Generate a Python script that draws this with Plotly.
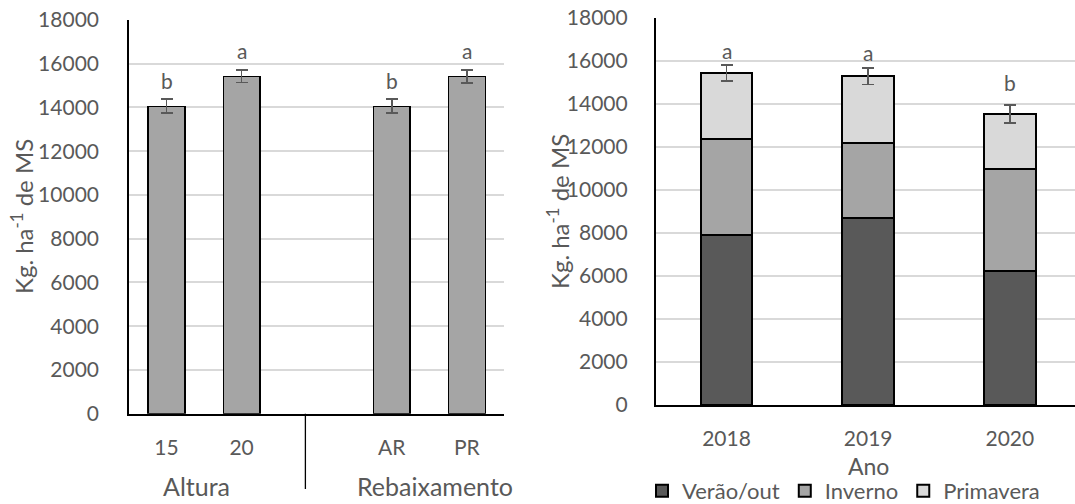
import plotly.graph_objects as go

# ---- data: dry-matter production (Kg ha-1 de MS) ----
# left panel: treatment means
trat_labels = ["15", "20", "AR", "PR"]
trat_means = [14060, 15430, 14060, 15420]
trat_err = [330, 290, 330, 300]
trat_letters = ["b", "a", "b", "a"]
grupos = ["Altura", "Rebaixamento"]

# right panel: yearly production split by season
anos = ["2018", "2019", "2020"]
verao_out = [7920, 8700, 6230]
inverno = [4440, 3490, 4750]
primavera = [3080, 3100, 2560]
ano_err = [365, 386, 410]
ano_letters = ["a", "a", "b"]

FONT = "Lato"
TXT = "#595959"
W, H = 1075, 504

# left category axis keeps an empty slot between the two factor groups
left_cats = ["15", "20", " ", "AR", "PR"]

fig = go.Figure()

fig.add_trace(go.Bar(
    x=trat_labels, y=trat_means, width=0.49,
    marker=dict(color="#A5A5A5", line=dict(color="#000000", width=1.3)),
    error_y=dict(type="data", array=trat_err, color="#595959", thickness=1.8, width=6),
    xaxis="x", yaxis="y", showlegend=False,
))

season_series = [("Verão/out", verao_out, "#595959"),
                 ("Inverno", inverno, "#A5A5A5"),
                 ("Primavera", primavera, "#D9D9D9")]
for i, (name, vals, col) in enumerate(season_series):
    fig.add_trace(go.Bar(
        name=name, x=anos, y=vals, width=0.366,
        marker=dict(color=col, line=dict(color="#000000", width=2)),
        error_y=(dict(type="data", array=ano_err, color="#595959", thickness=1.8, width=6)
                 if i == len(season_series) - 1 else None),
        xaxis="x2", yaxis="y2",
    ))

totals = [a + b + c for a, b, c in zip(verao_out, inverno, primavera)]

axis_font = dict(family=FONT, size=21, color=TXT)
grid = dict(showgrid=True, gridcolor="#D9D9D9", gridwidth=1.6, zeroline=False)

fig.update_layout(
    width=W, height=H,
    margin=dict(l=0, r=0, t=0, b=0, autoexpand=False),
    paper_bgcolor="white", plot_bgcolor="white",
    barmode="stack",
    font=dict(family=FONT, color=TXT),
    xaxis=dict(domain=[129 / W, 504.3 / W], type="category",
               categoryorder="array", categoryarray=left_cats,
               range=[-0.5, 4.5], showline=True, linecolor="#000000", linewidth=1.6,
               ticks="", tickfont=axis_font, ticklabelstandoff=14, showgrid=False,
               tickvals=trat_labels),
    yaxis=dict(domain=[(H - 413.7) / H, (H - 20) / H], range=[0, 18000], dtick=2000,
               showline=True, linecolor="#000000", linewidth=1.6, ticks="",
               tickfont=axis_font, ticklabelstandoff=24, tickformat="d", **grid),
    xaxis2=dict(domain=[655.7 / W, 1.0], type="category", range=[-0.5, 2.46],
                showline=True, linecolor="#000000", linewidth=1.6, ticks="",
                tickfont=axis_font, ticklabelstandoff=14, showgrid=False,
                anchor="y2"),
    yaxis2=dict(domain=[(H - 405) / H, (H - 18) / H], range=[0, 18000], dtick=2000,
                showline=True, linecolor="#000000", linewidth=1.6, ticks="",
                tickfont=axis_font, ticklabelstandoff=22, tickformat="d",
                anchor="x2", **grid),
    legend=dict(orientation="h", x=642 / W, y=(H - 491) / H, xanchor="left",
                yanchor="middle", font=dict(family=FONT, size=22, color=TXT),
                itemwidth=30, traceorder="normal", bgcolor="rgba(0,0,0,0)",
                tracegroupgap=0),
    showlegend=True,
)

ann = []
letter_font = dict(family=FONT, size=21, color=TXT)
# significance letters above the bars (positions given as category indices)
for lab, val, txt in zip(trat_labels, trat_means, trat_letters):
    ann.append(dict(x=left_cats.index(lab), y=val, xref="x", yref="y", text=txt,
                    showarrow=False, yanchor="middle", yshift=26, font=letter_font))
for i, (val, txt, sh) in enumerate(zip(totals, ano_letters, [23, 24, 31])):
    ann.append(dict(x=i, y=val, xref="x2", yref="y2", text=txt, showarrow=False,
                    yanchor="middle", yshift=sh, font=letter_font))

# group labels of the left panel
for g, gx in zip(grupos, [196.7, 435]):
    ann.append(dict(x=gx / W, y=(H - 486) / H, xref="paper", yref="paper", text=g,
                    showarrow=False, xanchor="center", yanchor="middle",
                    font=dict(family=FONT, size=25, color=TXT)))

# y-axis titles
ytitle = "Kg. ha<sup>-1</sup> de MS"
for tx, ty in [(22, 217), (558, 212)]:
    ann.append(dict(x=tx / W, y=(H - ty) / H, xref="paper", yref="paper", text=ytitle,
                    textangle=-90, showarrow=False, xanchor="center", yanchor="middle",
                    font=dict(family=FONT, size=24, color=TXT)))

# x-axis title of the right panel
ann.append(dict(x=868 / W, y=(H - 466) / H, xref="paper", yref="paper", text="Ano",
                showarrow=False, xanchor="center", yanchor="middle",
                font=dict(family=FONT, size=23, color=TXT)))

fig.update_layout(annotations=ann)

# vertical divider between the two factor groups
fig.add_shape(type="line", xref="x", yref="paper", x0=1.85, x1=1.85,
              y0=(H - 413.7) / H, y1=(H - 489) / H,
              line=dict(color="#000000", width=1.3))

fig.write_html("out.html")
